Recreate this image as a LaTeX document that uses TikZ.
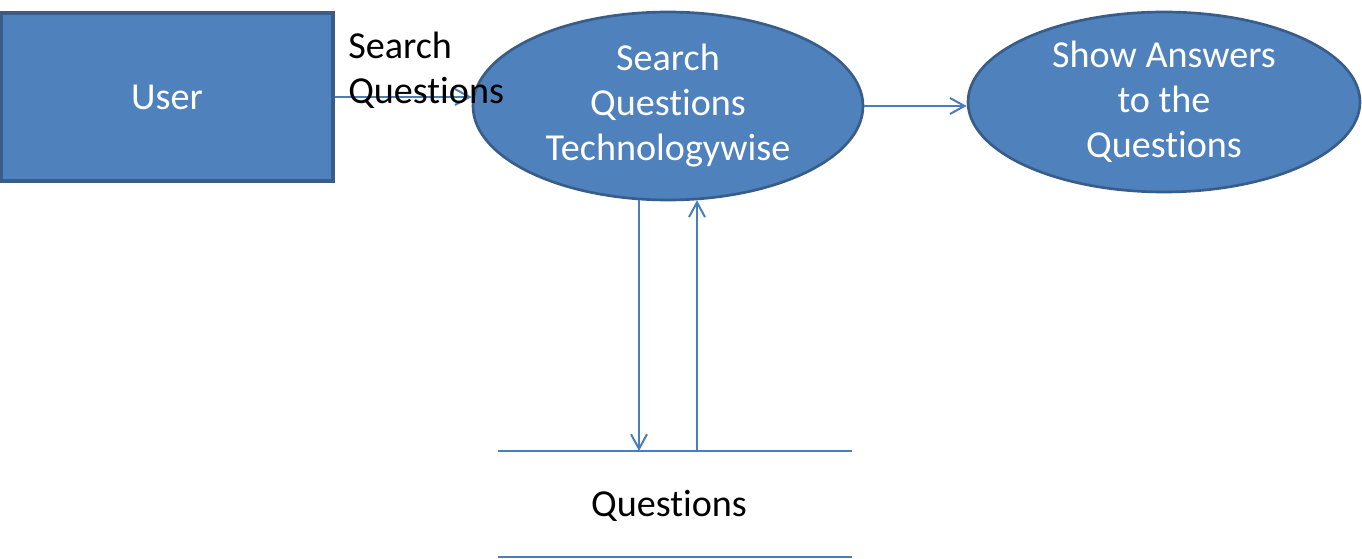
\documentclass[tikz,border=0pt]{standalone}
\usepackage{fontspec}
\setmainfont{Carlito}[Ligatures=NoCommon]
\usetikzlibrary{arrows.meta,calc,shapes.geometric}
\definecolor{boxfill}{HTML}{4F81BD}
\definecolor{boxline}{HTML}{385D8A}
\definecolor{flowline}{HTML}{4A7EBB}
\newcommand{\dfdfont}{\fontsize{28.6pt}{33.75pt}\selectfont}

\begin{document}
\begin{tikzpicture}[
    x=0.75pt, y=-0.75pt,
    entity/.style={draw=boxline, fill=boxfill, line width=2.4pt, text=white, font=\dfdfont},
    process/.style={ellipse, draw=boxline, fill=boxfill, line width=2pt, inner sep=0pt, text=white, align=center, font=\dfdfont},
    flow/.style={draw=flowline, line width=1.5pt, -{Straight Barb[length=11pt,width=12pt]}},
    store/.style={draw=flowline, line width=1.5pt},
    label/.style={font=\dfdfont, align=left, inner sep=0pt}
]
    \useasboundingbox (0,0) rectangle (1362,559);

    % External entity
    \node[entity, minimum width=249pt, minimum height=126pt] (user) at (167,97) {User};

    % Processes
    \node[process, minimum width=292.5pt, minimum height=141pt] (srch) at (668,106) {Search\\Questions\\Technologywise};
    \node[process, minimum width=294pt, minimum height=135pt] (show) at (1164,102) {Show Answers\\to the\\Questions};

    % Data store
    \coordinate (st1) at (498,451);
    \coordinate (st2) at (852,451);
    \coordinate (sb1) at (498,557);
    \coordinate (sb2) at (852,557);
    \draw[store] (st1) -- (st2);
    \draw[store] (sb1) -- (sb2);
    \node[label] (qst) at (669,506) {Questions};

    % Flows
    \draw[flow] (user.east) -- (user.east -| srch.west);
    \node[label, anchor=west] (lsrch) at (348,70) {Search\\Questions};
    \draw[flow] (srch.east) -- (srch.east -| show.west);
    \coordinate (dn) at ($(srch.south)+(-29,-1)$);
    \coordinate (up) at ($(srch.south)+(29,-1)$);
    \draw[flow] (dn) -- (dn |- st1);
    \draw[flow] (up |- st1) -- (up);
\end{tikzpicture}
\end{document}
